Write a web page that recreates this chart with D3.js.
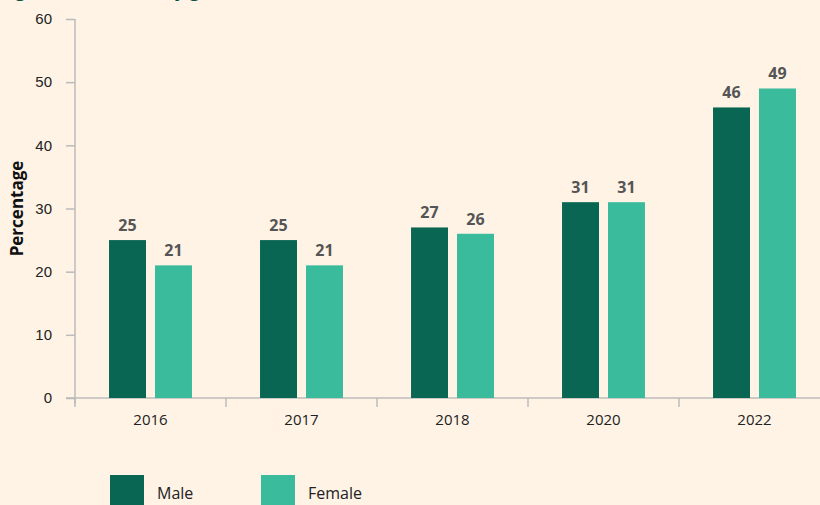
<!DOCTYPE html>
<html>
<head>
<meta charset="utf-8">
<script src="https://cdn.jsdelivr.net/npm/d3@7"></script>
<style>
  html, body { margin: 0; padding: 0; background: #fef3e5; }
  svg { display: block; font-family: "Open Sans", "Noto Sans", sans-serif; }
  .tick text { font-size: 15px; fill: #222; }
  .bar-label { font-size: 16px; font-weight: bold; fill: #555; }
</style>
</head>
<body>
<div id="chart"></div>
<script>
const years = ["2016", "2017", "2018", "2020", "2022"];
const series = ["Male", "Female"];
const maleValues = [25, 25, 27, 31, 46];
const femaleValues = [21, 21, 26, 31, 49];
const yTicks = [0, 10, 20, 30, 40, 50, 60];
const colors = ["#096652", "#3abc9c"];

const width = 820, height = 505;
const margin = {top: 19, right: -10, bottom: 107, left: 75};

const svg = d3.select("#chart").append("svg")
    .attr("width", width)
    .attr("height", height);

svg.append("rect").attr("width", width).attr("height", height).attr("fill", "#fef3e5");

// title (mostly cut off at the top in the original too)
svg.append("text")
    .attr("x", 0)
    .attr("y", -3)
    .attr("font-size", "18px")
    .attr("font-weight", "bold")
    .attr("fill", "#0b4a3c")
    .text("Figure 5: Smokers by gender");

const data = years.map((y, i) => ({year: y, values: [maleValues[i], femaleValues[i]]}));

const x = d3.scaleBand()
    .domain(years)
    .range([margin.left, width - margin.right]);

const y = d3.scaleLinear()
    .domain([0, 60])
    .range([height - margin.bottom, margin.top]);

// y axis
const yAxis = svg.append("g")
    .attr("transform", `translate(${margin.left},0)`)
    .call(d3.axisLeft(y).tickValues(yTicks).tickSize(9).tickPadding(14));
yAxis.select(".domain").attr("stroke", "#bbb").attr("stroke-width", 1.5)
    .attr("d", `M0,${y(60)}V${y(0) + 6}`);
yAxis.selectAll(".tick line").attr("stroke", "#bbb").attr("stroke-width", 1.5);

// x axis, ticks sit on the category boundaries
const xg = svg.append("g").attr("transform", `translate(0,${y(0)})`);
xg.append("line")
    .attr("x1", margin.left - 9).attr("x2", width)
    .attr("stroke", "#bbb").attr("stroke-width", 1.5);
xg.selectAll(".bound").data(years).enter().append("line")
    .attr("x1", d => x(d)).attr("x2", d => x(d))
    .attr("y1", 0).attr("y2", 9)
    .attr("stroke", "#bbb").attr("stroke-width", 1.5);
xg.selectAll(".xl").data(years).enter().append("text")
    .attr("x", d => x(d) + x.bandwidth() / 2)
    .attr("y", 27)
    .attr("text-anchor", "middle")
    .attr("font-size", "15px")
    .attr("fill", "#222")
    .text(d => d);

// y label
svg.append("text")
    .attr("transform", `translate(23,${(y(0) + y(60)) / 2}) rotate(-90)`)
    .attr("text-anchor", "middle")
    .attr("font-size", "17px")
    .attr("font-weight", "bold")
    .attr("fill", "#111")
    .text("Percentage");

// bars
const inner = d3.scaleBand()
    .domain([0, 1])
    .range([0, x.bandwidth()])
    .paddingInner(0.196)
    .paddingOuter(0.74);

const groups = svg.selectAll(".grp").data(data).enter().append("g")
    .attr("transform", d => `translate(${x(d.year)},0)`);

groups.selectAll("rect").data(d => d.values).enter().append("rect")
    .attr("x", (d, i) => inner(i))
    .attr("y", d => y(d))
    .attr("width", inner.bandwidth())
    .attr("height", d => y(0) - y(d))
    .attr("fill", (d, i) => colors[i]);

groups.selectAll(".bar-label").data(d => d.values).enter().append("text")
    .attr("class", "bar-label")
    .attr("x", (d, i) => inner(i) + inner.bandwidth() / 2)
    .attr("y", d => y(d) - 9)
    .attr("text-anchor", "middle")
    .text(d => d);

// legend
const legend = svg.selectAll(".legend").data(series).enter().append("g")
    .attr("transform", (d, i) => `translate(${110 + i * 151},475)`);
legend.append("rect")
    .attr("width", 34).attr("height", 34)
    .attr("fill", (d, i) => colors[i]);
legend.append("text")
    .attr("x", 47).attr("y", 24)
    .attr("font-size", "16px")
    .attr("fill", "#222")
    .text(d => d);
</script>
</body>
</html>
